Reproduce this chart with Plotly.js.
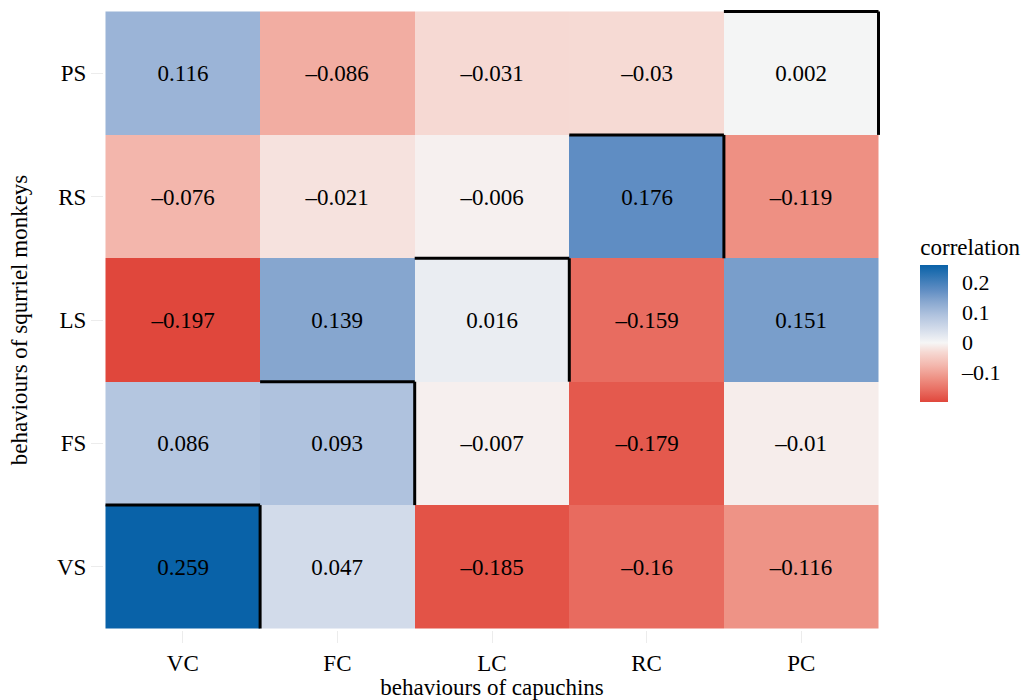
<!DOCTYPE html>
<html>
<head>
<meta charset="utf-8">
<script src="https://cdn.plot.ly/plotly-3.0.1.min.js"></script>
<style>html,body{margin:0;padding:0;background:#fff;}#chart{width:1027px;height:700px;}</style>
</head>
<body>
<div id="chart"></div>
<script>
const capuchins = ['VC', 'FC', 'LC', 'RC', 'PC'];
const squirrels = ['VS', 'FS', 'LS', 'RS', 'PS'];
const rowVS = [0.259, 0.047, -0.185, -0.16, -0.116];
const rowFS = [0.086, 0.093, -0.007, -0.179, -0.01];
const rowLS = [-0.197, 0.139, 0.016, -0.159, 0.151];
const rowRS = [-0.076, -0.021, -0.006, 0.176, -0.119];
const rowPS = [0.116, -0.086, -0.031, -0.03, 0.002];
const cbTicks = [-0.1, 0, 0.1, 0.2];

const z = [rowVS, rowFS, rowLS, rowRS, rowPS];
const fmt = v => String(v).replace('-', '\u2013');
const text = z.map(r => r.map(fmt));
const zmin = Math.min(...z.flat()), zmax = Math.max(...z.flat());
const stops = [
  [-0.197, '#e0473c'], [-0.159, '#e86c60'], [-0.119, '#ee9083'], [-0.076, '#f3b6ac'],
  [-0.031, '#f6d9d3'], [0, '#f6f6f6'], [0.047, '#d2dbea'], [0.093, '#afc2de'],
  [0.139, '#86a6cf'], [0.176, '#5f8dc3'], [0.259, '#0962a8']
];
const colorscale = stops.map(s => [Math.min(1, Math.max(0, (s[0] - zmin) / (zmax - zmin))), s[1]]);

const font = 'Liberation Serif, Times New Roman, serif';
const trace = {
  type: 'heatmap', x: capuchins, y: squirrels, z: z, text: text,
  texttemplate: '%{text}', textfont: {family: font, size: 23, color: '#000'},
  zmin: zmin, zmax: zmax, colorscale: colorscale, hoverinfo: 'skip',
  colorbar: {
    title: {text: 'correlation', side: 'top', font: {family: font, size: 23, color: '#000'}},
    x: 1.052, xanchor: 'left', y: 0.368, yanchor: 'bottom', len: 167/620, lenmode: 'fraction',
    thickness: 28, outlinewidth: 0, xpad: 0, ypad: 0,
    tickvals: cbTicks, ticktext: cbTicks.map(fmt),
    ticks: 'outside', ticklen: 10, tickcolor: '#ffffff', tickwidth: 1,
    tickfont: {family: font, size: 22, color: '#000'}
  }
};

const shapes = [];
for (let i = 0; i < capuchins.length; i++) {
  const ln = {color: '#000', width: 3};
  shapes.push({type: 'line', xref: 'x', yref: 'y', x0: i - 0.5, x1: i + 0.5, y0: i + 0.5, y1: i + 0.5, line: ln});
  shapes.push({type: 'line', xref: 'x', yref: 'y', x0: i + 0.5, x1: i + 0.5, y0: i - 0.5, y1: i + 0.5, line: ln});
}

const layout = {
  width: 1027, height: 700,
  margin: {l: 104, r: 147, t: 10, b: 70, autoexpand: false},
  paper_bgcolor: '#fff', plot_bgcolor: '#fff',
  font: {family: font, color: '#000'},
  xaxis: {
    type: 'category', showgrid: false, zeroline: false, showline: false,
    ticks: 'outside', ticklen: 12, tickcolor: '#ececec', tickwidth: 1,
    tickfont: {family: font, size: 23, color: '#000'},
    title: {text: 'behaviours of capuchins', font: {family: font, size: 23, color: '#000'}, standoff: 2}
  },
  yaxis: {
    type: 'category', showgrid: false, zeroline: false, showline: false,
    ticks: 'outside', ticklen: 12, tickcolor: '#ececec', tickwidth: 1,
    tickfont: {family: font, size: 23, color: '#000'},
    title: {text: 'behaviours of squrriel monkeys', font: {family: font, size: 23, color: '#000'}, standoff: 22}
  },
  shapes: shapes
};

Plotly.newPlot('chart', [trace], layout, {displayModeBar: false, staticPlot: true});
</script>
</body>
</html>
